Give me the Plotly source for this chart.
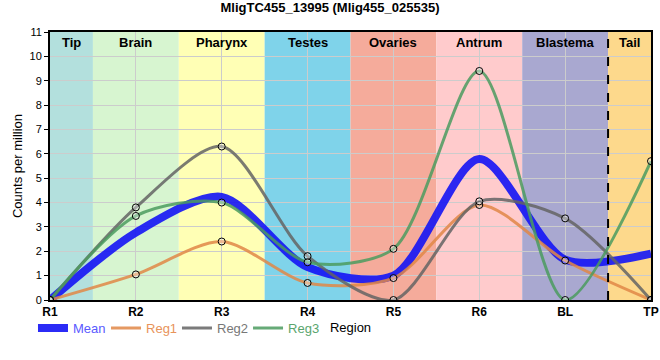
import plotly.graph_objects as go

categories = ["R1", "R2", "R3", "R4", "R5", "R6", "BL", "TP"]
reg1 = [0, 1.05, 2.4, 0.7, 0.9, 3.9, 1.62, 0]
reg2 = [0, 3.8, 6.3, 1.8, 0, 4.05, 3.35, 0]
reg3 = [0, 3.45, 4.0, 1.55, 2.1, 9.4, 0, 5.7]
mean = [round((a + b + c) / 3, 3) for a, b, c in zip(reg1, reg2, reg3)]

regions = ["Tip", "Brain", "Pharynx", "Testes", "Ovaries", "Antrum", "Blastema", "Tail"]
region_bounds = [(0, 0.5), (0.5, 1.5), (1.5, 2.5), (2.5, 3.5), (3.5, 4.5), (4.5, 5.5), (5.5, 6.5), (6.5, 7)]
region_colors = ["#b3e0dd", "#d7f5d0", "#ffffb5", "#7fd3ea", "#f5ab9b", "#ffcbcc", "#a9a8d0", "#fdd98c"]

xs = list(range(len(categories)))

series = [
    ("Mean", mean, "rgba(20,20,245,0.9)", 8, "#5a5aff"),
    ("Reg1", reg1, "rgba(224,135,70,0.85)", 3, "#e8935a"),
    ("Reg2", reg2, "rgba(100,100,100,0.85)", 3, "#777777"),
    ("Reg3", reg3, "rgba(75,155,95,0.85)", 3, "#5aa56e"),
]
legend_ids = ["legend", "legend2", "legend3", "legend4"]

fig = go.Figure()
for (name, vals, col, w, tcol), lid in zip(series, legend_ids):
    fig.add_trace(go.Scatter(
        x=xs, y=vals, mode="lines", name=f"<span style='color:{tcol}'>{name}</span>",
        line=dict(color=col, width=w, shape="spline", smoothing=0.8),
        hoverinfo="skip", legend=lid,
    ))
for name, vals, col, w, tcol in series[1:]:
    fig.add_trace(go.Scatter(
        x=xs, y=vals, mode="markers", showlegend=False,
        marker=dict(size=7, color="rgba(255,255,255,0.35)", line=dict(color="black", width=1)),
    ))

shapes = []
for (x0, x1), c in zip(region_bounds, region_colors):
    shapes.append(dict(type="rect", xref="x", yref="paper", x0=x0, x1=x1, y0=0, y1=1,
                       fillcolor=c, line=dict(width=0), layer="below"))
shapes.append(dict(type="line", xref="x", yref="paper", x0=6.5, x1=6.5, y0=0, y1=1,
                   line=dict(color="black", width=2, dash="dash")))

annotations = []
for (x0, x1), r in zip(region_bounds, regions):
    annotations.append(dict(x=(x0 + x1) / 2, y=1, xref="x", yref="paper", yanchor="top",
                            text=f"<b>{r}</b>", showarrow=False, yshift=-1,
                            font=dict(size=13, color="black", family="Liberation Sans, Arial")))

leg_common = dict(orientation="h", xanchor="left", y=-0.105, yanchor="middle",
                  font=dict(size=13), bgcolor="rgba(0,0,0,0)")
legend_x = [-0.0283, 0.0932, 0.2113, 0.3295]

fig.update_layout(
    width=660, height=360,
    margin=dict(l=50, r=9, t=32, b=60, autoexpand=False),
    paper_bgcolor="white", plot_bgcolor="white",
    font=dict(family="Liberation Sans, Arial", size=12, color="black"),
    title=dict(text="<b>MligTC455_13995 (Mlig455_025535)</b>", x=0.5, xanchor="center",
               y=0.993, yanchor="top", yref="container", font=dict(size=13, color="black")),
    shapes=shapes, annotations=annotations,
    showlegend=True,
    legend=dict(x=legend_x[0], **leg_common),
    legend2=dict(x=legend_x[1], **leg_common),
    legend3=dict(x=legend_x[2], **leg_common),
    legend4=dict(x=legend_x[3], **leg_common),
    xaxis=dict(range=[0, 7], tickvals=xs, ticktext=[f"<b>{c}</b>" for c in categories],
               showgrid=True, gridcolor="#cccccc", gridwidth=1, automargin=False,
               showline=True, linecolor="black", linewidth=2, mirror=True,
               ticks="", zeroline=False,
               tickfont=dict(size=12, color="black"),
               title=dict(text="Region", standoff=4, font=dict(size=13, color="black"))),
    yaxis=dict(range=[0, 11], dtick=1, showgrid=True, gridcolor="#cccccc", gridwidth=1,
               showline=True, linecolor="black", linewidth=2, mirror=True, automargin=False,
               ticks="outside", ticklen=4, tickcolor="black", zeroline=False,
               tickfont=dict(size=11, color="black"),
               title=dict(text="Counts per million", standoff=4, font=dict(size=13, color="black"))),
)

fig.write_html("out.html", config={"displayModeBar": False},
               post_script="document.body.style.margin='0';")
